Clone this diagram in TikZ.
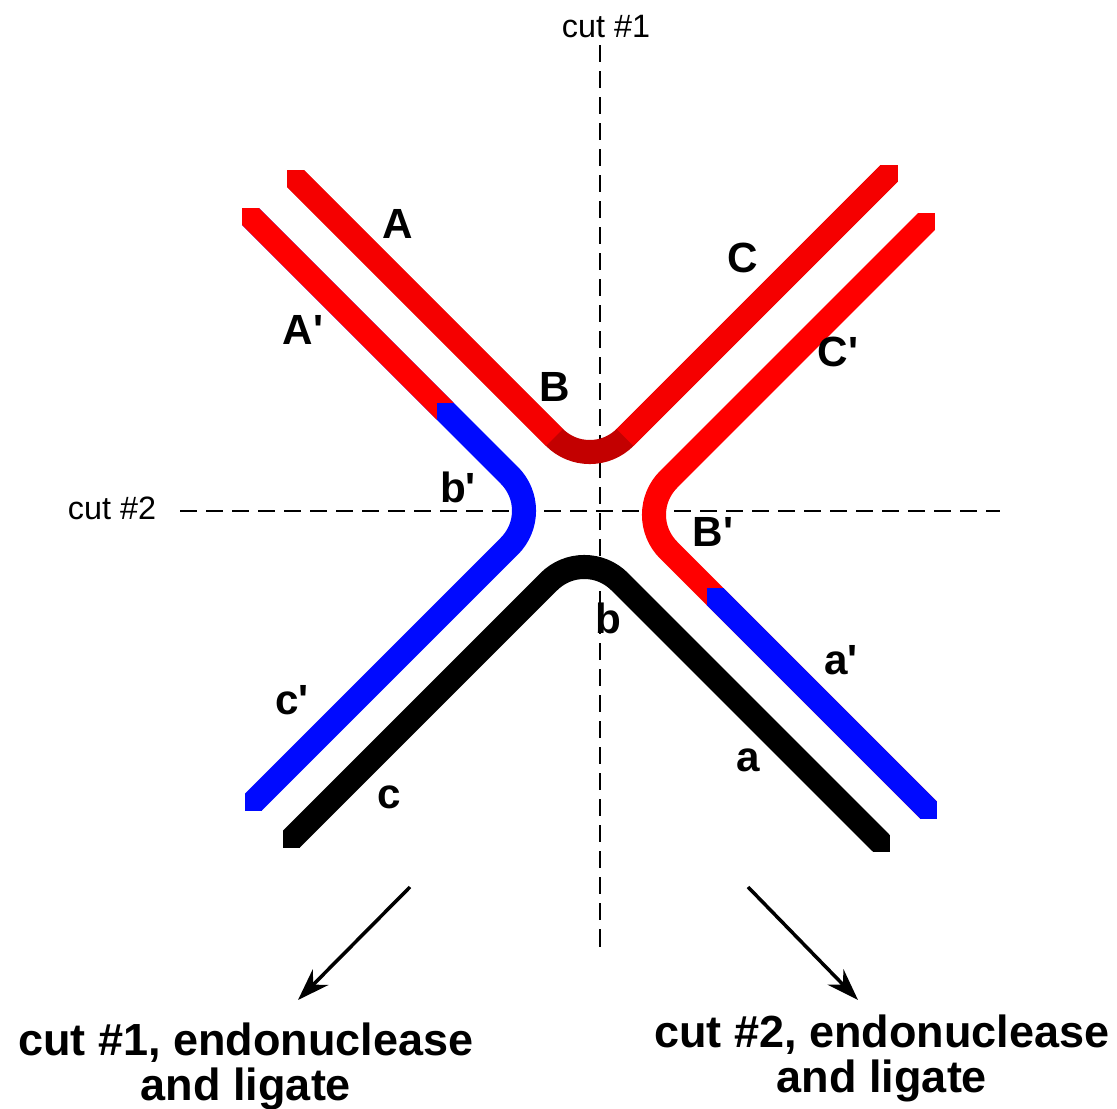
\documentclass[tikz,border=0pt]{standalone}
\usepackage{fontspec}
\setmainfont{Liberation Sans}[Ligatures=TeXOff]
\usetikzlibrary{arrows.meta}
\definecolor{dnared}{RGB}{245,0,0}
\definecolor{dnadark}{RGB}{195,0,0}
\definecolor{dnablue}{RGB}{0,10,255}
\newcommand\penend[2]{\fill[#1] (#2) ++(-8.5,-8.5) rectangle ++(17,17);}
\begin{document}
\begin{tikzpicture}[x=0.01cm,y=-0.01cm,
  strand/.style={line width=0.24cm, line cap=butt, line join=round, rounded corners=0.5cm},
  seg/.style={line width=0.24cm, line cap=butt},
  lbl/.style={font=\fontsize{12}{12}\selectfont\bfseries, inner sep=0pt},
  cutlbl/.style={font=\fontsize{9.2}{9.2}\selectfont, inner sep=0pt},
  bigtxt/.style={font=\fontsize{12.8}{12.8}\selectfont\bfseries, align=center, inner sep=0pt},
  cutline/.style={line width=0.02cm, dash pattern=on 0.17cm off 0.09cm},
  arr/.style={line width=0.035cm, -{Stealth[length=0.32cm,width=0.22cm]}}]
\fill[white] (0,0) rectangle (1117,1109);
\useasboundingbox (0,0) rectangle (1117,1109);

% coordinates
\coordinate (Aend) at (295.5,178.5);
\coordinate (Avx) at (589.75,472.75);
\coordinate (Cend) at (889,173.5);
\coordinate (Bl) at (554.4,437.4);
\coordinate (Br) at (625.1,437.4);

\coordinate (Apend) at (250.5,216.5);
\coordinate (bvx) at (544.75,510.75);
\coordinate (cpend) at (253.5,802);
\coordinate (T1) at (445,411);

\coordinate (Cpend) at (926.5,221.5);
\coordinate (Bpvx) at (633.25,514.75);
\coordinate (apend) at (928.5,810);
\coordinate (T2) at (715,596.5);

\coordinate (cend) at (291.5,839);
\coordinate (bvx2) at (584.25,546.25);
\coordinate (aend) at (881,843);

% dashed cut lines
\coordinate (v1) at (600,45);
\coordinate (v2) at (600,950);
\coordinate (h1) at (180,511);
\coordinate (h2) at (1000,511);
\draw[cutline] (v1) -- (v2);
\draw[cutline] (h1) -- (h2);

% top strand A-B-C
\draw[strand, dnadark] (Aend) -- (Avx) -- (Cend);
\draw[seg, dnared] (Aend) -- (Bl);
\draw[seg, dnared] (Br) -- (Cend);
\penend{dnared}{Aend}
\penend{dnared}{Cend}

% A'-b'-c' strand
\draw[strand, dnablue] (Apend) -- (bvx) -- (cpend);
\draw[seg, red] (Apend) -- (T1);
\penend{red}{Apend}
\penend{dnablue}{T1}
\penend{dnablue}{cpend}

% C'-B'-a' strand
\draw[strand, red] (Cpend) -- (Bpvx) -- (apend);
\draw[seg, dnablue] (T2) -- (apend);
\penend{red}{Cpend}
\penend{dnablue}{T2}
\penend{dnablue}{apend}

% c-b-a strand
\draw[strand, black] (cend) -- (bvx2) -- (aend);
\penend{black}{cend}
\penend{black}{aend}

% labels
\node[lbl] (lA) at (398,224) {A};
\node[lbl] (lAp) at (303,330) {A'};
\node[lbl] (lB) at (555,387) {B};
\node[lbl] (lC) at (743,258) {C};
\node[lbl] (lCp) at (838,352) {C'};
\node[lbl] (lbp) at (458,487) {b'};
\node[lbl] (lBp) at (713,532) {B'};
\node[lbl] (lb) at (608,618) {b};
\node[lbl] (lap) at (841,660) {a'};
\node[lbl] (la) at (748,760) {a};
\node[lbl] (lcp) at (292,700) {c'};
\node[lbl] (lc) at (389,797) {c};

\node[cutlbl] (cut1) at (606,27) {cut \#1};
\node[cutlbl] (cut2) at (112,508) {cut \#2};

% arrows
\coordinate (a1s) at (410,887);
\coordinate (a1e) at (298,1000);
\coordinate (a2s) at (748,887);
\coordinate (a2e) at (858,1000);
\draw[arr] (a1s) -- (a1e);
\draw[arr] (a2s) -- (a2e);

\node[bigtxt] (t1) at (246,1066) {cut \#1, endonuclease\\and ligate};
\node[bigtxt] (t2) at (882,1058) {cut \#2, endonuclease\\and ligate};
\end{tikzpicture}
\end{document}
